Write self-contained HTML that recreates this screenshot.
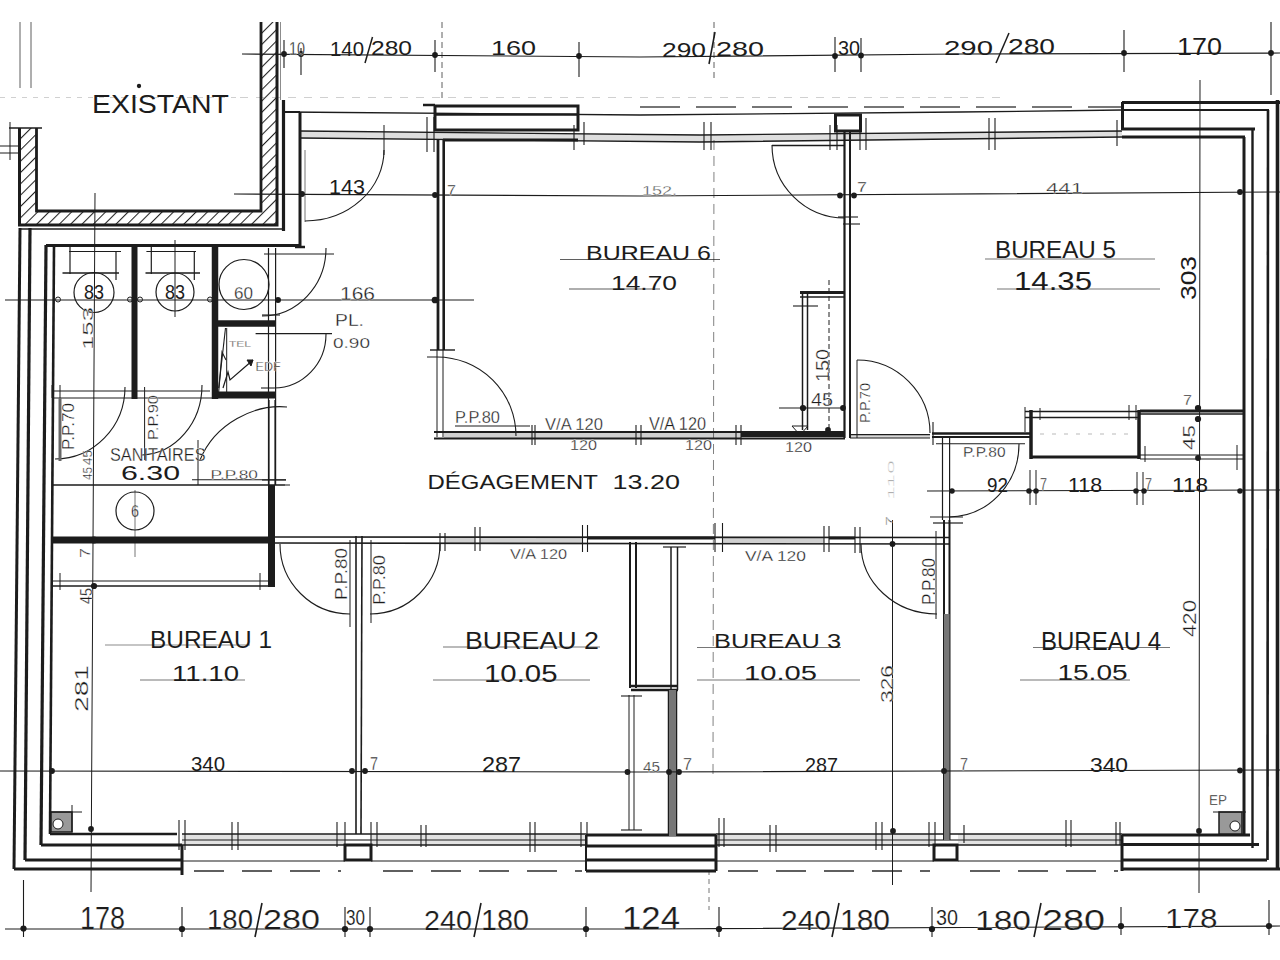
<!DOCTYPE html>
<html><head><meta charset="utf-8"><style>
html,body{margin:0;padding:0;background:#fff;}
svg{display:block;}
text{font-family:"Liberation Sans",sans-serif;-webkit-font-smoothing:antialiased;}
</style></head><body>
<svg width="1280" height="960" viewBox="0 0 1280 960">
<rect width="1280" height="960" fill="#fff"/>
<polygon points="300,131 700,135 1122,131 1122,137 700,142 300,138" fill="#dedede"/>
<rect x="444" y="432" width="297" height="6.5" fill="#d0d0d0"/>
<rect x="445" y="537.5" width="30" height="5.5" fill="#d0d0d0"/>
<rect x="480" y="537.5" width="102" height="5.5" fill="#d0d0d0"/>
<rect x="722" y="537.5" width="102" height="6.0" fill="#d0d0d0"/>
<rect x="182" y="834" width="163" height="11" fill="#e2e2e2"/>
<rect x="371" y="834" width="215" height="11" fill="#e2e2e2"/>
<rect x="716" y="834" width="218" height="11" fill="#e2e2e2"/>
<rect x="958" y="834" width="164" height="11" fill="#e2e2e2"/>
<rect x="850" y="434.6" width="80" height="3.3999999999999773" fill="#d8d8d8"/>
<polyline points="242,54 640,57 960,54 1280,53" fill="none" stroke="#1c1c1c" stroke-width="1.2"/>
<circle cx="284" cy="54" r="2.88" fill="#1c1c1c"/>
<circle cx="301" cy="54" r="2.88" fill="#1c1c1c"/>
<circle cx="435" cy="55" r="2.88" fill="#1c1c1c"/>
<circle cx="579" cy="56" r="2.88" fill="#1c1c1c"/>
<circle cx="835" cy="56" r="2.88" fill="#1c1c1c"/>
<circle cx="861" cy="55.5" r="2.88" fill="#1c1c1c"/>
<circle cx="1124" cy="53" r="2.88" fill="#1c1c1c"/>
<circle cx="1271" cy="53" r="2.88" fill="#1c1c1c"/>
<line x1="284" y1="40" x2="284" y2="68" stroke="#1c1c1c" stroke-width="1.1"/>
<line x1="301" y1="48" x2="301" y2="75" stroke="#1c1c1c" stroke-width="1.1"/>
<line x1="435" y1="40" x2="435" y2="72" stroke="#1c1c1c" stroke-width="1.1"/>
<line x1="579" y1="42" x2="579" y2="77" stroke="#1c1c1c" stroke-width="1.1"/>
<line x1="835" y1="37" x2="835" y2="72" stroke="#1c1c1c" stroke-width="1.1"/>
<line x1="861" y1="38" x2="861" y2="72" stroke="#1c1c1c" stroke-width="1.1"/>
<line x1="1124" y1="30" x2="1124" y2="72" stroke="#1c1c1c" stroke-width="1.1"/>
<line x1="1271" y1="22" x2="1271" y2="95" stroke="#1c1c1c" stroke-width="1.1"/>
<line x1="442" y1="22" x2="442" y2="100" stroke="#1c1c1c" stroke-width="1" stroke-dasharray="6,4" opacity="0.7"/>
<line x1="714" y1="22" x2="714" y2="80" stroke="#1c1c1c" stroke-width="1" stroke-dasharray="6,4" opacity="0.7"/>
<text x="289" y="55" font-size="18.16" textLength="16" lengthAdjust="spacingAndGlyphs" fill="#1c1c1c" stroke="#fff" stroke-width="0.3">10</text>
<text x="330" y="56" font-size="19.55" textLength="34" lengthAdjust="spacingAndGlyphs" fill="#1c1c1c">140</text>
<line x1="372.5" y1="37" x2="365" y2="63" stroke="#1c1c1c" stroke-width="1.5"/>
<text x="371" y="55" font-size="19.55" textLength="41" lengthAdjust="spacingAndGlyphs" fill="#1c1c1c">280</text>
<text x="491" y="55" font-size="20.95" textLength="45" lengthAdjust="spacingAndGlyphs" fill="#1c1c1c">160</text>
<text x="662" y="57" font-size="20.95" textLength="44" lengthAdjust="spacingAndGlyphs" fill="#1c1c1c">290</text>
<line x1="715" y1="32" x2="709" y2="64" stroke="#1c1c1c" stroke-width="1.5"/>
<text x="716" y="56" font-size="20.95" textLength="48" lengthAdjust="spacingAndGlyphs" fill="#1c1c1c">280</text>
<text x="838" y="55" font-size="20.95" textLength="22" lengthAdjust="spacingAndGlyphs" fill="#1c1c1c">30</text>
<text x="944" y="55" font-size="20.95" textLength="49" lengthAdjust="spacingAndGlyphs" fill="#1c1c1c">290</text>
<line x1="1009" y1="33" x2="996" y2="63" stroke="#1c1c1c" stroke-width="1.5"/>
<text x="1008" y="54" font-size="22.35" textLength="47" lengthAdjust="spacingAndGlyphs" fill="#1c1c1c">280</text>
<text x="1177" y="55" font-size="23.74" textLength="45" lengthAdjust="spacingAndGlyphs" fill="#1c1c1c">170</text>
<defs><pattern id="hatch" width="8" height="8" patternUnits="userSpaceOnUse" patternTransform="rotate(45)"><line x1="0" y1="0" x2="0" y2="8" stroke="#222" stroke-width="2.1"/></pattern></defs>
<polygon points="19.5,128 36.5,128 36.5,211 261,211 261,22 277,22 277,225 19.5,225" fill="url(#hatch)"/>
<polyline points="19.5,128 19.5,225 277,225 277,22" fill="none" stroke="#1c1c1c" stroke-width="3"/>
<polyline points="36.5,128 36.5,211 261,211 261,22" fill="none" stroke="#1c1c1c" stroke-width="2.8"/>
<line x1="9" y1="128" x2="42" y2="128" stroke="#1c1c1c" stroke-width="1.6"/>
<line x1="10" y1="122" x2="10" y2="160" stroke="#1c1c1c" stroke-width="1"/>
<line x1="0" y1="146" x2="19" y2="146" stroke="#1c1c1c" stroke-width="1"/>
<line x1="0" y1="153" x2="19" y2="153" stroke="#1c1c1c" stroke-width="1"/>
<line x1="20" y1="22" x2="20" y2="88" stroke="#1c1c1c" stroke-width="1" opacity="0.7"/>
<line x1="31" y1="22" x2="31" y2="88" stroke="#1c1c1c" stroke-width="1" opacity="0.7"/>
<line x1="283.5" y1="100" x2="283.5" y2="231" stroke="#1c1c1c" stroke-width="3.2"/>
<line x1="20" y1="229" x2="284" y2="229" stroke="#1c1c1c" stroke-width="1.5"/>
<line x1="280.5" y1="22" x2="280.5" y2="100" stroke="#1c1c1c" stroke-width="1" opacity="0.5"/>
<text x="92" y="112.5" font-size="25.84" textLength="137" lengthAdjust="spacingAndGlyphs" fill="#1c1c1c">EXISTANT</text>
<circle cx="139" cy="86" r="2.16" fill="#1c1c1c"/>
<line x1="0" y1="97.5" x2="240" y2="97.5" stroke="#1c1c1c" stroke-width="1" stroke-dasharray="5,6" opacity="0.2"/>
<line x1="240" y1="97.5" x2="1000" y2="97.5" stroke="#1c1c1c" stroke-width="1" stroke-dasharray="8,8" opacity="0.2"/>
<line x1="640" y1="107" x2="1122" y2="107" stroke="#1c1c1c" stroke-width="1.6" stroke-dasharray="40,16" opacity="0.8"/>
<polyline points="285,112 640,115 960,112 1122,110" fill="none" stroke="#1c1c1c" stroke-width="1.3"/>
<polyline points="300,131 700,135 1122,131" fill="none" stroke="#1c1c1c" stroke-width="1.3"/>
<polyline points="300,138 700,142 1122,137" fill="none" stroke="#1c1c1c" stroke-width="1.3"/>
<line x1="423" y1="105" x2="435" y2="105" stroke="#1c1c1c" stroke-width="2.5"/>
<rect x="435" y="106" width="143" height="24" fill="none" stroke="#1c1c1c" stroke-width="3"/>
<line x1="435" y1="114.5" x2="578" y2="114.5" stroke="#1c1c1c" stroke-width="2.4"/>
<line x1="443" y1="140" x2="578" y2="140" stroke="#1c1c1c" stroke-width="3"/>
<rect x="835.5" y="115" width="25.0" height="16" fill="none" stroke="#1c1c1c" stroke-width="3"/>
<line x1="772" y1="145.5" x2="845" y2="145.5" stroke="#1c1c1c" stroke-width="1.4"/>
<line x1="1122" y1="102.5" x2="1280" y2="102.5" stroke="#1c1c1c" stroke-width="3"/>
<line x1="1122" y1="110" x2="1269" y2="110" stroke="#1c1c1c" stroke-width="2"/>
<line x1="1122" y1="129" x2="1255" y2="129" stroke="#1c1c1c" stroke-width="3"/>
<line x1="1122" y1="137" x2="1245" y2="137" stroke="#1c1c1c" stroke-width="3"/>
<line x1="1122.5" y1="102" x2="1122.5" y2="130" stroke="#1c1c1c" stroke-width="3"/>
<line x1="427" y1="117" x2="427" y2="152" stroke="#1c1c1c" stroke-width="1.1"/>
<line x1="434" y1="117" x2="434" y2="152" stroke="#1c1c1c" stroke-width="1.1"/>
<line x1="574" y1="125" x2="574" y2="150" stroke="#1c1c1c" stroke-width="1.1"/>
<line x1="584" y1="122" x2="584" y2="145" stroke="#1c1c1c" stroke-width="1.1"/>
<line x1="704" y1="122" x2="704" y2="150" stroke="#1c1c1c" stroke-width="1.1"/>
<line x1="711" y1="122" x2="711" y2="150" stroke="#1c1c1c" stroke-width="1.1"/>
<line x1="830" y1="125" x2="830" y2="150" stroke="#1c1c1c" stroke-width="1.1"/>
<line x1="837" y1="125" x2="837" y2="150" stroke="#1c1c1c" stroke-width="1.1"/>
<line x1="860" y1="118" x2="860" y2="150" stroke="#1c1c1c" stroke-width="1.1"/>
<line x1="866" y1="118" x2="866" y2="150" stroke="#1c1c1c" stroke-width="1.1"/>
<line x1="989" y1="118" x2="989" y2="150" stroke="#1c1c1c" stroke-width="1.1"/>
<line x1="995" y1="118" x2="995" y2="150" stroke="#1c1c1c" stroke-width="1.1"/>
<line x1="1117" y1="120" x2="1117" y2="146" stroke="#1c1c1c" stroke-width="1.1"/>
<line x1="1200" y1="80" x2="1199" y2="893" stroke="#1c1c1c" stroke-width="1"/>
<line x1="20" y1="228" x2="14" y2="869" stroke="#1c1c1c" stroke-width="3"/>
<line x1="30" y1="228" x2="25" y2="860" stroke="#1c1c1c" stroke-width="3.2"/>
<line x1="46" y1="245" x2="41" y2="845" stroke="#1c1c1c" stroke-width="3.2"/>
<line x1="54" y1="246" x2="50" y2="834" stroke="#1c1c1c" stroke-width="2.6"/>
<line x1="46" y1="245.5" x2="300" y2="245.5" stroke="#1c1c1c" stroke-width="3.2"/>
<line x1="300" y1="112" x2="300" y2="248" stroke="#1c1c1c" stroke-width="3"/>
<line x1="283.5" y1="112" x2="300" y2="112" stroke="#1c1c1c" stroke-width="2"/>
<line x1="295" y1="247" x2="305" y2="247" stroke="#1c1c1c" stroke-width="2.5"/>
<line x1="1244" y1="137" x2="1244" y2="835" stroke="#1c1c1c" stroke-width="3"/>
<line x1="1252.5" y1="129" x2="1252.5" y2="848" stroke="#1c1c1c" stroke-width="2.4"/>
<line x1="1268" y1="110" x2="1267.5" y2="860" stroke="#1c1c1c" stroke-width="2.6"/>
<line x1="1277.5" y1="100" x2="1277.5" y2="869" stroke="#1c1c1c" stroke-width="3.6"/>
<line x1="50" y1="834" x2="177" y2="834" stroke="#1c1c1c" stroke-width="2.5"/>
<line x1="41" y1="845" x2="182" y2="845" stroke="#1c1c1c" stroke-width="3"/>
<line x1="25" y1="860" x2="182" y2="860" stroke="#1c1c1c" stroke-width="3"/>
<line x1="14" y1="869" x2="182" y2="869" stroke="#1c1c1c" stroke-width="3"/>
<line x1="182" y1="845" x2="182" y2="875" stroke="#1c1c1c" stroke-width="3"/>
<line x1="182" y1="834" x2="345" y2="834" stroke="#1c1c1c" stroke-width="1.5"/>
<line x1="182" y1="840" x2="345" y2="840" stroke="#1c1c1c" stroke-width="1.1"/>
<line x1="182" y1="845" x2="345" y2="845" stroke="#1c1c1c" stroke-width="1.4"/>
<line x1="182" y1="861" x2="345" y2="861" stroke="#1c1c1c" stroke-width="1.2"/>
<line x1="194" y1="871" x2="341" y2="871" stroke="#1c1c1c" stroke-width="1.8" stroke-dasharray="30,18" opacity="0.7"/>
<line x1="371" y1="834" x2="586" y2="834" stroke="#1c1c1c" stroke-width="1.5"/>
<line x1="371" y1="840" x2="586" y2="840" stroke="#1c1c1c" stroke-width="1.1"/>
<line x1="371" y1="845" x2="586" y2="845" stroke="#1c1c1c" stroke-width="1.4"/>
<line x1="371" y1="861" x2="586" y2="861" stroke="#1c1c1c" stroke-width="1.2"/>
<line x1="383" y1="871" x2="582" y2="871" stroke="#1c1c1c" stroke-width="1.8" stroke-dasharray="30,18" opacity="0.7"/>
<line x1="716" y1="834" x2="934" y2="834" stroke="#1c1c1c" stroke-width="1.5"/>
<line x1="716" y1="840" x2="934" y2="840" stroke="#1c1c1c" stroke-width="1.1"/>
<line x1="716" y1="845" x2="934" y2="845" stroke="#1c1c1c" stroke-width="1.4"/>
<line x1="716" y1="861" x2="934" y2="861" stroke="#1c1c1c" stroke-width="1.2"/>
<line x1="728" y1="871" x2="930" y2="871" stroke="#1c1c1c" stroke-width="1.8" stroke-dasharray="30,18" opacity="0.7"/>
<line x1="958" y1="834" x2="1122" y2="834" stroke="#1c1c1c" stroke-width="1.5"/>
<line x1="958" y1="840" x2="1122" y2="840" stroke="#1c1c1c" stroke-width="1.1"/>
<line x1="958" y1="845" x2="1122" y2="845" stroke="#1c1c1c" stroke-width="1.4"/>
<line x1="958" y1="861" x2="1122" y2="861" stroke="#1c1c1c" stroke-width="1.2"/>
<line x1="970" y1="871" x2="1118" y2="871" stroke="#1c1c1c" stroke-width="1.8" stroke-dasharray="30,18" opacity="0.7"/>
<line x1="345" y1="834" x2="371" y2="834" stroke="#1c1c1c" stroke-width="1.5"/>
<line x1="345" y1="840" x2="371" y2="840" stroke="#1c1c1c" stroke-width="1.1"/>
<line x1="934" y1="834" x2="958" y2="834" stroke="#1c1c1c" stroke-width="1.5"/>
<line x1="934" y1="840" x2="958" y2="840" stroke="#1c1c1c" stroke-width="1.1"/>
<rect x="345" y="845" width="26" height="15" fill="none" stroke="#1c1c1c" stroke-width="3"/>
<rect x="934" y="845" width="23" height="15" fill="none" stroke="#1c1c1c" stroke-width="3"/>
<line x1="586" y1="835" x2="716" y2="835" stroke="#1c1c1c" stroke-width="3"/>
<line x1="586" y1="846" x2="716" y2="846" stroke="#1c1c1c" stroke-width="3"/>
<line x1="586" y1="860" x2="716" y2="860" stroke="#1c1c1c" stroke-width="3"/>
<line x1="586" y1="871" x2="716" y2="871" stroke="#1c1c1c" stroke-width="3"/>
<line x1="586" y1="835" x2="586" y2="871" stroke="#1c1c1c" stroke-width="2"/>
<line x1="716" y1="835" x2="716" y2="871" stroke="#1c1c1c" stroke-width="3"/>
<line x1="1122" y1="835" x2="1250" y2="835" stroke="#1c1c1c" stroke-width="3"/>
<line x1="1122" y1="844.5" x2="1259" y2="844.5" stroke="#1c1c1c" stroke-width="3"/>
<line x1="1122" y1="860" x2="1267" y2="860" stroke="#1c1c1c" stroke-width="3"/>
<line x1="1122" y1="869" x2="1280" y2="869" stroke="#1c1c1c" stroke-width="3"/>
<line x1="1122" y1="835" x2="1122" y2="871" stroke="#1c1c1c" stroke-width="3"/>
<line x1="179" y1="820" x2="179" y2="850" stroke="#1c1c1c" stroke-width="1.1"/>
<line x1="185" y1="820" x2="185" y2="850" stroke="#1c1c1c" stroke-width="1.1"/>
<line x1="232" y1="822" x2="232" y2="850" stroke="#1c1c1c" stroke-width="1.1"/>
<line x1="238" y1="822" x2="238" y2="850" stroke="#1c1c1c" stroke-width="1.1"/>
<line x1="337" y1="822" x2="337" y2="847" stroke="#1c1c1c" stroke-width="1.1"/>
<line x1="345" y1="822" x2="345" y2="847" stroke="#1c1c1c" stroke-width="1.1"/>
<line x1="371" y1="822" x2="371" y2="847" stroke="#1c1c1c" stroke-width="1.1"/>
<line x1="377" y1="822" x2="377" y2="847" stroke="#1c1c1c" stroke-width="1.1"/>
<line x1="421" y1="825" x2="421" y2="847" stroke="#1c1c1c" stroke-width="1.1"/>
<line x1="426" y1="825" x2="426" y2="847" stroke="#1c1c1c" stroke-width="1.1"/>
<line x1="530" y1="822" x2="530" y2="852" stroke="#1c1c1c" stroke-width="1.1"/>
<line x1="535" y1="822" x2="535" y2="852" stroke="#1c1c1c" stroke-width="1.1"/>
<line x1="581" y1="822" x2="581" y2="847" stroke="#1c1c1c" stroke-width="1.1"/>
<line x1="587" y1="822" x2="587" y2="847" stroke="#1c1c1c" stroke-width="1.1"/>
<line x1="719" y1="818" x2="719" y2="847" stroke="#1c1c1c" stroke-width="1.1"/>
<line x1="724" y1="818" x2="724" y2="847" stroke="#1c1c1c" stroke-width="1.1"/>
<line x1="770" y1="825" x2="770" y2="852" stroke="#1c1c1c" stroke-width="1.1"/>
<line x1="776" y1="825" x2="776" y2="852" stroke="#1c1c1c" stroke-width="1.1"/>
<line x1="876" y1="822" x2="876" y2="850" stroke="#1c1c1c" stroke-width="1.1"/>
<line x1="882" y1="822" x2="882" y2="850" stroke="#1c1c1c" stroke-width="1.1"/>
<line x1="929" y1="822" x2="929" y2="847" stroke="#1c1c1c" stroke-width="1.1"/>
<line x1="935" y1="822" x2="935" y2="847" stroke="#1c1c1c" stroke-width="1.1"/>
<line x1="964" y1="825" x2="964" y2="843" stroke="#1c1c1c" stroke-width="1.1"/>
<line x1="1066" y1="820" x2="1066" y2="847" stroke="#1c1c1c" stroke-width="1.1"/>
<line x1="1071" y1="820" x2="1071" y2="847" stroke="#1c1c1c" stroke-width="1.1"/>
<line x1="1116" y1="822" x2="1116" y2="845" stroke="#1c1c1c" stroke-width="1.1"/>
<line x1="1120" y1="822" x2="1120" y2="845" stroke="#1c1c1c" stroke-width="1.1"/>
<line x1="134.5" y1="246" x2="134.5" y2="399" stroke="#1c1c1c" stroke-width="6"/>
<line x1="215" y1="246" x2="215" y2="399" stroke="#1c1c1c" stroke-width="6.5"/>
<line x1="215" y1="323.5" x2="276" y2="323.5" stroke="#1c1c1c" stroke-width="6.5"/>
<line x1="215" y1="395" x2="276" y2="395" stroke="#1c1c1c" stroke-width="7"/>
<line x1="226.7" y1="328" x2="226.7" y2="392" stroke="#1c1c1c" stroke-width="1"/>
<circle cx="94" cy="292.5" r="20" fill="none" stroke="#1c1c1c" stroke-width="1.2"/>
<circle cx="175" cy="292" r="19" fill="none" stroke="#1c1c1c" stroke-width="1.2"/>
<circle cx="244" cy="284.5" r="25" fill="none" stroke="#1c1c1c" stroke-width="1.2"/>
<text x="84" y="299" font-size="19.55" textLength="20" lengthAdjust="spacingAndGlyphs" fill="#1c1c1c">83</text>
<text x="165" y="299" font-size="19.55" textLength="20" lengthAdjust="spacingAndGlyphs" fill="#1c1c1c">83</text>
<text x="234" y="299" font-size="16.76" textLength="19" lengthAdjust="spacingAndGlyphs" fill="#1c1c1c" stroke="#fff" stroke-width="0.3">60</text>
<line x1="70" y1="246" x2="70" y2="274" stroke="#1c1c1c" stroke-width="1.2"/>
<line x1="116" y1="251" x2="116" y2="280" stroke="#1c1c1c" stroke-width="1.2"/>
<line x1="69" y1="251.5" x2="121" y2="251.5" stroke="#1c1c1c" stroke-width="1.2"/>
<line x1="62.5" y1="273" x2="119" y2="273" stroke="#1c1c1c" stroke-width="1.4"/>
<line x1="151.3" y1="246" x2="151.3" y2="274" stroke="#1c1c1c" stroke-width="1.2"/>
<line x1="194.3" y1="251" x2="194.3" y2="280" stroke="#1c1c1c" stroke-width="1.2"/>
<line x1="146.4" y1="251.5" x2="196" y2="251.5" stroke="#1c1c1c" stroke-width="1.2"/>
<line x1="145.5" y1="273" x2="200" y2="273" stroke="#1c1c1c" stroke-width="1.4"/>
<line x1="175" y1="240" x2="175" y2="317" stroke="#1c1c1c" stroke-width="1"/>
<line x1="95" y1="193" x2="91" y2="892" stroke="#1c1c1c" stroke-width="1"/>
<line x1="5" y1="300" x2="474" y2="300" stroke="#1c1c1c" stroke-width="1.2"/>
<circle cx="58" cy="299.5" r="2.5" fill="none" stroke="#1c1c1c" stroke-width="1"/>
<circle cx="130" cy="299.5" r="2.5" fill="none" stroke="#1c1c1c" stroke-width="1"/>
<circle cx="140" cy="299.5" r="2.5" fill="none" stroke="#1c1c1c" stroke-width="1"/>
<circle cx="210" cy="299.5" r="2.5" fill="none" stroke="#1c1c1c" stroke-width="1"/>
<circle cx="278" cy="300" r="3.0" fill="#1c1c1c"/>
<circle cx="435" cy="300" r="3.36" fill="#1c1c1c"/>
<text transform="translate(92.5,350) rotate(-90)" x="0" y="0" font-size="14.66" textLength="43" lengthAdjust="spacingAndGlyphs" fill="#1c1c1c" stroke="#fff" stroke-width="0.3">153</text>
<line x1="52" y1="391" x2="210" y2="391" stroke="#1c1c1c" stroke-width="1.2"/>
<line x1="52" y1="398" x2="215" y2="398" stroke="#1c1c1c" stroke-width="1.2"/>
<line x1="60" y1="385" x2="60" y2="398" stroke="#1c1c1c" stroke-width="1"/>
<line x1="52" y1="398" x2="52" y2="385" stroke="#1c1c1c" stroke-width="1"/>
<path d="M125,387 A70,72 0 0 1 55,459" fill="none" stroke="#1c1c1c" stroke-width="1.1"/>
<line x1="60" y1="398" x2="60" y2="461" stroke="#666" stroke-width="3"/>
<path d="M202,385 A62,70 0 0 1 142,455" fill="none" stroke="#1c1c1c" stroke-width="1.1"/>
<line x1="144.6" y1="387" x2="144.6" y2="460" stroke="#1c1c1c" stroke-width="1"/>
<path d="M287,407 C255,404 215,423 200,460" fill="none" stroke="#1c1c1c" stroke-width="1.1"/>
<line x1="198" y1="440" x2="198" y2="485" stroke="#1c1c1c" stroke-width="1"/>
<line x1="192" y1="479.7" x2="286" y2="479.7" stroke="#1c1c1c" stroke-width="1.1"/>
<line x1="52" y1="485" x2="290" y2="485" stroke="#1c1c1c" stroke-width="1.2"/>
<line x1="268.5" y1="248" x2="268.5" y2="485" stroke="#1c1c1c" stroke-width="1.2"/>
<line x1="275.6" y1="248" x2="275.6" y2="485" stroke="#1c1c1c" stroke-width="1.2"/>
<text transform="translate(74,450) rotate(-90)" x="0" y="0" font-size="16.76" textLength="47" lengthAdjust="spacingAndGlyphs" fill="#1c1c1c" stroke="#fff" stroke-width="0.3">P.P.70</text>
<text transform="translate(158,440) rotate(-90)" x="0" y="0" font-size="15.36" textLength="45" lengthAdjust="spacingAndGlyphs" fill="#1c1c1c" stroke="#fff" stroke-width="0.3">P.P.90</text>
<text transform="translate(92,465) rotate(-90)" x="0" y="0" font-size="12.57" textLength="15" lengthAdjust="spacingAndGlyphs" fill="#1c1c1c" stroke="#fff" stroke-width="0.3">45</text>
<text transform="translate(92,480) rotate(-90)" x="0" y="0" font-size="12.57" textLength="13" lengthAdjust="spacingAndGlyphs" fill="#1c1c1c" stroke="#fff" stroke-width="0.3">45</text>
<text x="110" y="461" font-size="18.16" textLength="95.5" lengthAdjust="spacingAndGlyphs" fill="#1c1c1c" stroke="#fff" stroke-width="0.3">SANITAIRES</text>
<text x="121" y="480" font-size="20.25" textLength="59" lengthAdjust="spacingAndGlyphs" fill="#1c1c1c">6.30</text>
<text x="210.6" y="478.7" font-size="13.55" textLength="47.400000000000006" lengthAdjust="spacingAndGlyphs" fill="#1c1c1c" stroke="#fff" stroke-width="0.3">P.P.80</text>
<path d="M326,248 A64,68 0 0 1 262,316" fill="none" stroke="#1c1c1c" stroke-width="1.1"/>
<line x1="264" y1="254" x2="334" y2="254" stroke="#1c1c1c" stroke-width="1.1"/>
<line x1="262" y1="315" x2="280" y2="315" stroke="#1c1c1c" stroke-width="1.1"/>
<path d="M326,334 A52,54 0 0 1 274,388" fill="none" stroke="#1c1c1c" stroke-width="1.1"/>
<line x1="255.6" y1="333.6" x2="332" y2="333.6" stroke="#1c1c1c" stroke-width="1.1"/>
<line x1="261" y1="388" x2="274" y2="388" stroke="#1c1c1c" stroke-width="1.1"/>
<text x="335" y="326" font-size="16.76" textLength="29" lengthAdjust="spacingAndGlyphs" fill="#1c1c1c" stroke="#fff" stroke-width="0.3">PL.</text>
<text x="333" y="348" font-size="15.36" textLength="37" lengthAdjust="spacingAndGlyphs" fill="#1c1c1c" stroke="#fff" stroke-width="0.3">0.90</text>
<text x="229" y="347" font-size="8.94" textLength="22" lengthAdjust="spacingAndGlyphs" fill="#1c1c1c" stroke="#fff" stroke-width="0.3">TEL</text>
<text x="255.6" y="371" font-size="11.87" textLength="25.00000000000003" lengthAdjust="spacingAndGlyphs" fill="#1c1c1c" stroke="#fff" stroke-width="0.3">EDF</text>
<polyline points="218.7,388 225.5,328" fill="none" stroke="#1c1c1c" stroke-width="1.1"/>
<polyline points="218.7,392 222,352 226,360" fill="none" stroke="#1c1c1c" stroke-width="1.1"/>
<polyline points="223,388 228,372 230,380 253,360" fill="none" stroke="#1c1c1c" stroke-width="1.2"/>
<path d="M247,360 L253,360 L251,366 Z" fill="#1c1c1c" stroke="#1c1c1c" stroke-width="1"/>
<path d="M287,407 " fill="none" stroke="#1c1c1c" stroke-width="1"/>
<line x1="53" y1="485" x2="285" y2="485" stroke="#1c1c1c" stroke-width="1.2"/>
<circle cx="135" cy="511" r="19" fill="none" stroke="#1c1c1c" stroke-width="1.2"/>
<text x="131" y="517" font-size="16.76" textLength="8" lengthAdjust="spacingAndGlyphs" fill="#1c1c1c" stroke="#fff" stroke-width="0.3">6</text>
<line x1="135" y1="490" x2="135" y2="557" stroke="#1c1c1c" stroke-width="1" opacity="0.6"/>
<line x1="53" y1="540" x2="270" y2="540" stroke="#1c1c1c" stroke-width="7"/>
<line x1="271.5" y1="485" x2="271.5" y2="587" stroke="#1c1c1c" stroke-width="7"/>
<line x1="53" y1="581" x2="270" y2="581" stroke="#1c1c1c" stroke-width="1.2"/>
<line x1="53" y1="586" x2="270" y2="586" stroke="#1c1c1c" stroke-width="1.6"/>
<line x1="60" y1="573" x2="60" y2="590" stroke="#1c1c1c" stroke-width="1"/>
<line x1="260" y1="573" x2="260" y2="590" stroke="#1c1c1c" stroke-width="1"/>
<circle cx="94" cy="540" r="3" fill="none" stroke="#1c1c1c" stroke-width="1.2"/>
<circle cx="94" cy="586" r="3.12" fill="#1c1c1c"/>
<text transform="translate(90,558) rotate(-90)" x="0" y="0" font-size="13.97" textLength="10" lengthAdjust="spacingAndGlyphs" fill="#1c1c1c" stroke="#fff" stroke-width="0.3">7</text>
<text transform="translate(92,604) rotate(-90)" x="0" y="0" font-size="16.76" textLength="16" lengthAdjust="spacingAndGlyphs" fill="#1c1c1c" stroke="#fff" stroke-width="0.3">45</text>
<line x1="269" y1="400" x2="269" y2="485" stroke="#1c1c1c" stroke-width="1.2"/>
<line x1="275" y1="400" x2="275" y2="485" stroke="#1c1c1c" stroke-width="1.2"/>
<line x1="262" y1="480" x2="286" y2="480" stroke="#1c1c1c" stroke-width="1.1"/>
<polyline points="234,194 640,196 1280,192" fill="none" stroke="#1c1c1c" stroke-width="1.1"/>
<circle cx="302" cy="194" r="2.88" fill="#1c1c1c"/>
<circle cx="435" cy="195" r="2.88" fill="#1c1c1c"/>
<circle cx="840" cy="195.5" r="2.88" fill="#1c1c1c"/>
<circle cx="854" cy="195.5" r="2.88" fill="#1c1c1c"/>
<circle cx="1240" cy="192" r="2.88" fill="#1c1c1c"/>
<text x="329" y="194" font-size="19.55" textLength="36" lengthAdjust="spacingAndGlyphs" fill="#1c1c1c">143</text>
<text x="340" y="300" font-size="18.16" textLength="35" lengthAdjust="spacingAndGlyphs" fill="#1c1c1c" stroke="#fff" stroke-width="0.3">166</text>
<text transform="translate(894,500) rotate(-90)" x="0" y="0" font-size="9.78" textLength="40" lengthAdjust="spacingAndGlyphs" fill="#1c1c1c" stroke="#fff" stroke-width="0.3" opacity="0.35">110</text>
<text x="447" y="195" font-size="15.36" textLength="9" lengthAdjust="spacingAndGlyphs" fill="#1c1c1c" stroke="#fff" stroke-width="0.3">7</text>
<text x="642" y="195" font-size="12.57" textLength="35" lengthAdjust="spacingAndGlyphs" fill="#1c1c1c" stroke="#fff" stroke-width="0.3" opacity="0.8">152.</text>
<text x="857" y="192" font-size="15.36" textLength="10" lengthAdjust="spacingAndGlyphs" fill="#1c1c1c" stroke="#fff" stroke-width="0.3">7</text>
<text x="1046" y="193" font-size="13.97" textLength="37" lengthAdjust="spacingAndGlyphs" fill="#1c1c1c" stroke="#fff" stroke-width="0.3">441</text>
<path d="M384,150 A79,71 0 0 1 305,221" fill="none" stroke="#1c1c1c" stroke-width="1.1"/>
<line x1="384" y1="125" x2="384" y2="155" stroke="#1c1c1c" stroke-width="1"/>
<line x1="305" y1="150" x2="305" y2="222" stroke="#1c1c1c" stroke-width="1" opacity="0.6"/>
<line x1="438" y1="140" x2="438" y2="350" stroke="#1c1c1c" stroke-width="2.8"/>
<line x1="443.7" y1="140" x2="443.7" y2="350" stroke="#1c1c1c" stroke-width="2.6"/>
<line x1="430" y1="350" x2="455" y2="350" stroke="#1c1c1c" stroke-width="1.4"/>
<line x1="437" y1="350" x2="437" y2="437" stroke="#1c1c1c" stroke-width="1"/>
<line x1="443" y1="350" x2="443" y2="437" stroke="#1c1c1c" stroke-width="1"/>
<path d="M437,357 A79,79 0 0 1 516,436" fill="none" stroke="#1c1c1c" stroke-width="1.1"/>
<line x1="427" y1="357" x2="437" y2="357" stroke="#1c1c1c" stroke-width="1"/>
<line x1="434" y1="432" x2="845" y2="432" stroke="#1c1c1c" stroke-width="2"/>
<line x1="434" y1="438.5" x2="845" y2="438.5" stroke="#1c1c1c" stroke-width="2"/>
<line x1="741" y1="435" x2="845" y2="435" stroke="#1c1c1c" stroke-width="4"/>
<line x1="455" y1="426" x2="530" y2="426" stroke="#1c1c1c" stroke-width="1.1"/>
<line x1="532" y1="425" x2="532" y2="445" stroke="#1c1c1c" stroke-width="1.1"/>
<line x1="535" y1="425" x2="535" y2="445" stroke="#1c1c1c" stroke-width="1.1"/>
<line x1="636" y1="425" x2="636" y2="445" stroke="#1c1c1c" stroke-width="1.1"/>
<line x1="641" y1="425" x2="641" y2="445" stroke="#1c1c1c" stroke-width="1.1"/>
<line x1="736" y1="425" x2="736" y2="445" stroke="#1c1c1c" stroke-width="1.1"/>
<line x1="741" y1="425" x2="741" y2="445" stroke="#1c1c1c" stroke-width="1.1"/>
<text x="455" y="423" font-size="16.76" textLength="45" lengthAdjust="spacingAndGlyphs" fill="#1c1c1c" stroke="#fff" stroke-width="0.3">P.P.80</text>
<text x="545" y="430" font-size="16.76" textLength="58" lengthAdjust="spacingAndGlyphs" fill="#1c1c1c" stroke="#fff" stroke-width="0.3">V/A 120</text>
<text x="570" y="450" font-size="13.97" textLength="27" lengthAdjust="spacingAndGlyphs" fill="#1c1c1c" stroke="#fff" stroke-width="0.3">120</text>
<text x="649" y="430" font-size="18.16" textLength="57" lengthAdjust="spacingAndGlyphs" fill="#1c1c1c" stroke="#fff" stroke-width="0.3">V/A 120</text>
<text x="685" y="450" font-size="13.97" textLength="27" lengthAdjust="spacingAndGlyphs" fill="#1c1c1c" stroke="#fff" stroke-width="0.3">120</text>
<text x="785" y="452" font-size="15.36" textLength="27" lengthAdjust="spacingAndGlyphs" fill="#1c1c1c" stroke="#fff" stroke-width="0.3">120</text>
<line x1="844.5" y1="131" x2="844.5" y2="438" stroke="#1c1c1c" stroke-width="2.2"/>
<line x1="850" y1="131" x2="850" y2="438" stroke="#1c1c1c" stroke-width="2"/>
<line x1="838" y1="217" x2="858" y2="217" stroke="#1c1c1c" stroke-width="1.1"/>
<line x1="843" y1="224" x2="860" y2="224" stroke="#1c1c1c" stroke-width="1.1"/>
<path d="M772,145 A73,73 0 0 0 845,218" fill="none" stroke="#1c1c1c" stroke-width="1.1"/>
<line x1="800" y1="292.5" x2="845" y2="292.5" stroke="#1c1c1c" stroke-width="3"/>
<line x1="800" y1="297" x2="845" y2="297" stroke="#1c1c1c" stroke-width="1.5"/>
<line x1="793" y1="306" x2="818" y2="306" stroke="#1c1c1c" stroke-width="1.1"/>
<line x1="802.5" y1="292" x2="802.5" y2="430" stroke="#1c1c1c" stroke-width="1.5"/>
<line x1="807.5" y1="292" x2="807.5" y2="430" stroke="#1c1c1c" stroke-width="1.5"/>
<line x1="829" y1="280" x2="829" y2="430" stroke="#1c1c1c" stroke-width="1" stroke-dasharray="5,3"/>
<line x1="779" y1="408" x2="845" y2="408" stroke="#1c1c1c" stroke-width="1.1"/>
<circle cx="803" cy="408" r="3.12" fill="#1c1c1c"/>
<circle cx="843" cy="408" r="2.88" fill="#1c1c1c"/>
<circle cx="828" cy="430" r="2.88" fill="#1c1c1c"/>
<path d="M792,426 L808,426 L800,435 Z" fill="none" stroke="#1c1c1c" stroke-width="1"/>
<text transform="translate(829,382) rotate(-90)" x="0" y="0" font-size="18.16" textLength="33" lengthAdjust="spacingAndGlyphs" fill="#1c1c1c" stroke="#fff" stroke-width="0.3">150</text>
<text x="811" y="406" font-size="18.16" textLength="22" lengthAdjust="spacingAndGlyphs" fill="#1c1c1c" stroke="#fff" stroke-width="0.3">45</text>
<line x1="714" y1="140" x2="713" y2="775" stroke="#1c1c1c" stroke-width="1" stroke-dasharray="10,6" opacity="0.55"/>
<text x="586" y="260" font-size="20.95" textLength="125" lengthAdjust="spacingAndGlyphs" fill="#1c1c1c">BUREAU 6</text>
<line x1="560" y1="259.5" x2="720" y2="259.5" stroke="#1c1c1c" stroke-width="1.1" opacity="0.7"/>
<text x="611" y="290" font-size="19.55" textLength="66" lengthAdjust="spacingAndGlyphs" fill="#1c1c1c">14.70</text>
<line x1="569" y1="289" x2="660" y2="289" stroke="#1c1c1c" stroke-width="1.1" opacity="0.7"/>
<text x="995" y="258" font-size="23.74" textLength="121" lengthAdjust="spacingAndGlyphs" fill="#1c1c1c">BUREAU 5</text>
<line x1="985" y1="259" x2="1155" y2="259" stroke="#1c1c1c" stroke-width="1.1" opacity="0.6"/>
<text x="1014" y="290" font-size="25.14" textLength="78" lengthAdjust="spacingAndGlyphs" fill="#1c1c1c">14.35</text>
<line x1="997" y1="289" x2="1160" y2="289" stroke="#1c1c1c" stroke-width="1.1" opacity="0.6"/>
<text transform="translate(1196,300) rotate(-90)" x="0" y="0" font-size="22.35" textLength="44" lengthAdjust="spacingAndGlyphs" fill="#1c1c1c">303</text>
<text transform="translate(1196,637) rotate(-90)" x="0" y="0" font-size="18.16" textLength="37" lengthAdjust="spacingAndGlyphs" fill="#1c1c1c" stroke="#fff" stroke-width="0.3">420</text>
<path d="M857,360 A73,73 0 0 1 930,433" fill="none" stroke="#1c1c1c" stroke-width="1.1"/>
<line x1="857" y1="360" x2="857" y2="438" stroke="#1c1c1c" stroke-width="1"/>
<line x1="850" y1="434.6" x2="930" y2="434.6" stroke="#1c1c1c" stroke-width="1.1"/>
<line x1="850" y1="438" x2="930" y2="438" stroke="#1c1c1c" stroke-width="1.1"/>
<text transform="translate(870,423) rotate(-90)" x="0" y="0" font-size="15.36" textLength="40" lengthAdjust="spacingAndGlyphs" fill="#1c1c1c" stroke="#fff" stroke-width="0.3">P.P.70</text>
<line x1="932" y1="433.6" x2="1031" y2="433.6" stroke="#1c1c1c" stroke-width="2.5"/>
<line x1="932" y1="437" x2="1031" y2="437" stroke="#1c1c1c" stroke-width="2"/>
<line x1="933" y1="422" x2="933" y2="445" stroke="#1c1c1c" stroke-width="1.1"/>
<line x1="1025" y1="411.5" x2="1140" y2="411.5" stroke="#1c1c1c" stroke-width="1.3"/>
<line x1="1025" y1="417.5" x2="1140" y2="417.5" stroke="#1c1c1c" stroke-width="1.3"/>
<line x1="1031" y1="410" x2="1031" y2="459" stroke="#1c1c1c" stroke-width="3.5"/>
<line x1="1139" y1="410" x2="1139" y2="459" stroke="#1c1c1c" stroke-width="3.5"/>
<line x1="1031" y1="457" x2="1139" y2="457" stroke="#1c1c1c" stroke-width="3"/>
<line x1="1040" y1="434" x2="1130" y2="434" stroke="#1c1c1c" stroke-width="1" stroke-dasharray="4,8" opacity="0.3"/>
<line x1="1140" y1="411" x2="1245" y2="411" stroke="#1c1c1c" stroke-width="3"/>
<line x1="1140" y1="414" x2="1245" y2="414" stroke="#1c1c1c" stroke-width="1.5"/>
<line x1="1140" y1="455" x2="1244" y2="455" stroke="#1c1c1c" stroke-width="1.2"/>
<line x1="1140" y1="459" x2="1244" y2="459" stroke="#1c1c1c" stroke-width="1.2"/>
<line x1="1145" y1="446" x2="1145" y2="462" stroke="#1c1c1c" stroke-width="1"/>
<line x1="1237" y1="445" x2="1237" y2="470" stroke="#1c1c1c" stroke-width="1"/>
<line x1="1025" y1="407" x2="1025" y2="432" stroke="#1c1c1c" stroke-width="1"/>
<line x1="1040" y1="408" x2="1040" y2="420" stroke="#1c1c1c" stroke-width="1"/>
<line x1="1129" y1="405" x2="1129" y2="420" stroke="#1c1c1c" stroke-width="1"/>
<line x1="1136" y1="405" x2="1136" y2="420" stroke="#1c1c1c" stroke-width="1"/>
<circle cx="1198" cy="408" r="3.12" fill="#1c1c1c"/>
<circle cx="1198" cy="419" r="3.12" fill="#1c1c1c"/>
<circle cx="1198" cy="458" r="2.88" fill="#1c1c1c"/>
<text transform="translate(1195,450) rotate(-90)" x="0" y="0" font-size="16.76" textLength="25" lengthAdjust="spacingAndGlyphs" fill="#1c1c1c" stroke="#fff" stroke-width="0.3">45</text>
<text x="1183" y="405" font-size="13.97" textLength="9" lengthAdjust="spacingAndGlyphs" fill="#1c1c1c" stroke="#fff" stroke-width="0.3">7</text>
<line x1="927" y1="491" x2="1280" y2="490" stroke="#1c1c1c" stroke-width="1.1"/>
<circle cx="952" cy="491" r="2.76" fill="#1c1c1c"/>
<circle cx="1029" cy="491" r="2.76" fill="#1c1c1c"/>
<circle cx="1036" cy="491" r="2.76" fill="#1c1c1c"/>
<circle cx="1136" cy="491" r="2.76" fill="#1c1c1c"/>
<circle cx="1144" cy="491" r="2.76" fill="#1c1c1c"/>
<circle cx="1240" cy="491" r="2.76" fill="#1c1c1c"/>
<line x1="1030" y1="470" x2="1030" y2="505" stroke="#1c1c1c" stroke-width="1"/>
<line x1="1036" y1="470" x2="1036" y2="505" stroke="#1c1c1c" stroke-width="1"/>
<line x1="1137" y1="472" x2="1137" y2="505" stroke="#1c1c1c" stroke-width="1"/>
<line x1="1143" y1="472" x2="1143" y2="505" stroke="#1c1c1c" stroke-width="1"/>
<text x="987" y="492" font-size="19.55" textLength="21" lengthAdjust="spacingAndGlyphs" fill="#1c1c1c">92</text>
<text x="1040" y="490" font-size="16.76" textLength="7" lengthAdjust="spacingAndGlyphs" fill="#1c1c1c" stroke="#fff" stroke-width="0.3">7</text>
<text x="1068" y="492" font-size="19.55" textLength="34" lengthAdjust="spacingAndGlyphs" fill="#1c1c1c">118</text>
<text x="1145" y="490" font-size="16.76" textLength="7" lengthAdjust="spacingAndGlyphs" fill="#1c1c1c" stroke="#fff" stroke-width="0.3">7</text>
<text x="1172" y="492" font-size="19.55" textLength="36" lengthAdjust="spacingAndGlyphs" fill="#1c1c1c">118</text>
<line x1="936" y1="443.7" x2="1025" y2="443.7" stroke="#1c1c1c" stroke-width="1.1"/>
<line x1="942.5" y1="437" x2="942.5" y2="520" stroke="#1c1c1c" stroke-width="1.2"/>
<line x1="949.6" y1="437" x2="949.6" y2="520" stroke="#1c1c1c" stroke-width="1.2"/>
<line x1="930" y1="517" x2="963" y2="517" stroke="#1c1c1c" stroke-width="1.2"/>
<path d="M1019,444 A71,73 0 0 1 949,517" fill="none" stroke="#1c1c1c" stroke-width="1.1"/>
<text x="963" y="457" font-size="15.36" textLength="42.5" lengthAdjust="spacingAndGlyphs" fill="#1c1c1c" stroke="#fff" stroke-width="0.3">P.P.80</text>
<line x1="944" y1="520" x2="944" y2="840" stroke="#1c1c1c" stroke-width="2"/>
<line x1="949.5" y1="520" x2="949.5" y2="840" stroke="#1c1c1c" stroke-width="2"/>
<rect x="944" y="614" width="5.5" height="226" fill="#777"/>
<text x="427.5" y="489" font-size="20.95" textLength="170.5" lengthAdjust="spacingAndGlyphs" fill="#1c1c1c">DÉGAGEMENT</text>
<text x="612.5" y="489" font-size="20.95" textLength="67.5" lengthAdjust="spacingAndGlyphs" fill="#1c1c1c">13.20</text>
<line x1="275" y1="537" x2="950" y2="537.5" stroke="#1c1c1c" stroke-width="1.6"/>
<line x1="275" y1="543" x2="950" y2="544" stroke="#1c1c1c" stroke-width="1.6"/>
<line x1="587" y1="538" x2="715" y2="538" stroke="#1c1c1c" stroke-width="3"/>
<line x1="829" y1="538" x2="855" y2="538" stroke="#1c1c1c" stroke-width="3"/>
<line x1="440" y1="533" x2="440" y2="551" stroke="#1c1c1c" stroke-width="1.1"/>
<line x1="445" y1="533" x2="445" y2="551" stroke="#1c1c1c" stroke-width="1.1"/>
<line x1="475" y1="527" x2="475" y2="551" stroke="#1c1c1c" stroke-width="1.1"/>
<line x1="480" y1="527" x2="480" y2="551" stroke="#1c1c1c" stroke-width="1.1"/>
<line x1="582.5" y1="525" x2="582.5" y2="552" stroke="#1c1c1c" stroke-width="1.1"/>
<line x1="587.5" y1="525" x2="587.5" y2="552" stroke="#1c1c1c" stroke-width="1.1"/>
<line x1="715" y1="523" x2="715" y2="552" stroke="#1c1c1c" stroke-width="1.1"/>
<line x1="722.5" y1="523" x2="722.5" y2="552" stroke="#1c1c1c" stroke-width="1.1"/>
<line x1="824" y1="526" x2="824" y2="552" stroke="#1c1c1c" stroke-width="1.1"/>
<line x1="829" y1="526" x2="829" y2="552" stroke="#1c1c1c" stroke-width="1.1"/>
<line x1="855" y1="527" x2="855" y2="553" stroke="#1c1c1c" stroke-width="1.1"/>
<line x1="860" y1="527" x2="860" y2="553" stroke="#1c1c1c" stroke-width="1.1"/>
<path d="M280,544 A70,70 0 0 0 350,614" fill="none" stroke="#1c1c1c" stroke-width="1.1"/>
<path d="M370,614 A70,70 0 0 0 440,544" fill="none" stroke="#1c1c1c" stroke-width="1.1"/>
<line x1="350" y1="540" x2="350" y2="627" stroke="#1c1c1c" stroke-width="1"/>
<line x1="371" y1="540" x2="371" y2="623" stroke="#1c1c1c" stroke-width="1"/>
<line x1="356" y1="536" x2="356" y2="834" stroke="#1c1c1c" stroke-width="1.6"/>
<line x1="362" y1="536" x2="361" y2="834" stroke="#1c1c1c" stroke-width="1.6"/>
<text transform="translate(347,600) rotate(-90)" x="0" y="0" font-size="16.76" textLength="52" lengthAdjust="spacingAndGlyphs" fill="#1c1c1c" stroke="#fff" stroke-width="0.3">P.P.80</text>
<text transform="translate(385,605) rotate(-90)" x="0" y="0" font-size="16.76" textLength="50" lengthAdjust="spacingAndGlyphs" fill="#1c1c1c" stroke="#fff" stroke-width="0.3">P.P.80</text>
<text x="510" y="559" font-size="13.97" textLength="57" lengthAdjust="spacingAndGlyphs" fill="#1c1c1c" stroke="#fff" stroke-width="0.3">V/A 120</text>
<text x="745" y="561" font-size="15.36" textLength="61" lengthAdjust="spacingAndGlyphs" fill="#1c1c1c" stroke="#fff" stroke-width="0.3">V/A 120</text>
<line x1="630" y1="542" x2="630" y2="688" stroke="#1c1c1c" stroke-width="2"/>
<line x1="636" y1="542" x2="636" y2="688" stroke="#1c1c1c" stroke-width="2"/>
<line x1="671" y1="547" x2="671" y2="690" stroke="#1c1c1c" stroke-width="1.5"/>
<line x1="677.5" y1="547" x2="677.5" y2="690" stroke="#1c1c1c" stroke-width="1.5"/>
<line x1="663" y1="547" x2="686" y2="547" stroke="#1c1c1c" stroke-width="1.2"/>
<line x1="631" y1="686" x2="678" y2="686" stroke="#1c1c1c" stroke-width="2.4"/>
<line x1="631" y1="690" x2="678" y2="690" stroke="#1c1c1c" stroke-width="2.4"/>
<line x1="669" y1="690" x2="669" y2="836" stroke="#1c1c1c" stroke-width="2.5"/>
<line x1="676" y1="690" x2="676" y2="836" stroke="#1c1c1c" stroke-width="2.5"/>
<rect x="669" y="690" width="7" height="146" fill="#777"/>
<line x1="629" y1="695" x2="629" y2="830" stroke="#1c1c1c" stroke-width="1"/>
<line x1="634" y1="695" x2="634" y2="830" stroke="#1c1c1c" stroke-width="1"/>
<line x1="621" y1="696" x2="642" y2="696" stroke="#1c1c1c" stroke-width="1.1"/>
<line x1="621" y1="830" x2="642" y2="830" stroke="#1c1c1c" stroke-width="1.1"/>
<line x1="892.5" y1="520" x2="892.5" y2="885" stroke="#1c1c1c" stroke-width="1"/>
<circle cx="892.5" cy="544" r="2.88" fill="#1c1c1c"/>
<circle cx="893" cy="831" r="2.88" fill="#1c1c1c"/>
<text transform="translate(892,526) rotate(-90)" x="0" y="0" font-size="9.78" textLength="10" lengthAdjust="spacingAndGlyphs" fill="#1c1c1c" stroke="#fff" stroke-width="0.3">7</text>
<path d="M861,544 A76,70 0 0 0 937,614" fill="none" stroke="#1c1c1c" stroke-width="1.1"/>
<line x1="936" y1="531" x2="936" y2="619" stroke="#1c1c1c" stroke-width="1"/>
<text transform="translate(935,605) rotate(-90)" x="0" y="0" font-size="18.16" textLength="47" lengthAdjust="spacingAndGlyphs" fill="#1c1c1c" stroke="#fff" stroke-width="0.3">P.P.80</text>
<line x1="933" y1="523" x2="963" y2="523" stroke="#1c1c1c" stroke-width="1.2"/>
<text transform="translate(893,703) rotate(-90)" x="0" y="0" font-size="16.76" textLength="38" lengthAdjust="spacingAndGlyphs" fill="#1c1c1c" stroke="#fff" stroke-width="0.3">326</text>
<polyline points="0,771 640,772 1280,770" fill="none" stroke="#1c1c1c" stroke-width="1.1"/>
<circle cx="52" cy="771" r="2.88" fill="#1c1c1c"/>
<circle cx="352" cy="771" r="2.88" fill="#1c1c1c"/>
<circle cx="365" cy="771" r="2.88" fill="#1c1c1c"/>
<circle cx="627.5" cy="772" r="2.88" fill="#1c1c1c"/>
<circle cx="669" cy="772" r="2.88" fill="#1c1c1c"/>
<circle cx="679" cy="772" r="2.88" fill="#1c1c1c"/>
<circle cx="944" cy="771" r="2.88" fill="#1c1c1c"/>
<circle cx="1240" cy="770.5" r="2.88" fill="#1c1c1c"/>
<text x="191" y="771" font-size="20.95" textLength="34" lengthAdjust="spacingAndGlyphs" fill="#1c1c1c">340</text>
<text x="370" y="770" font-size="18.16" textLength="8" lengthAdjust="spacingAndGlyphs" fill="#1c1c1c" stroke="#fff" stroke-width="0.3">7</text>
<text x="482" y="772" font-size="22.35" textLength="39" lengthAdjust="spacingAndGlyphs" fill="#1c1c1c">287</text>
<text x="643" y="772" font-size="13.97" textLength="17" lengthAdjust="spacingAndGlyphs" fill="#1c1c1c" stroke="#fff" stroke-width="0.3">45</text>
<text x="683" y="770" font-size="16.76" textLength="9" lengthAdjust="spacingAndGlyphs" fill="#1c1c1c" stroke="#fff" stroke-width="0.3">7</text>
<text x="805" y="772" font-size="20.95" textLength="33" lengthAdjust="spacingAndGlyphs" fill="#1c1c1c">287</text>
<text x="960" y="770" font-size="16.76" textLength="8" lengthAdjust="spacingAndGlyphs" fill="#1c1c1c" stroke="#fff" stroke-width="0.3">7</text>
<text x="1090" y="772" font-size="20.95" textLength="38" lengthAdjust="spacingAndGlyphs" fill="#1c1c1c">340</text>
<text x="150" y="647.5" font-size="23.04" textLength="122" lengthAdjust="spacingAndGlyphs" fill="#1c1c1c">BUREAU 1</text>
<line x1="105" y1="645" x2="250" y2="645" stroke="#1c1c1c" stroke-width="1.1" opacity="0.5"/>
<text x="172" y="681" font-size="22.35" textLength="67" lengthAdjust="spacingAndGlyphs" fill="#1c1c1c">11.10</text>
<line x1="140" y1="680" x2="245" y2="680" stroke="#1c1c1c" stroke-width="1.1" opacity="0.6"/>
<text x="465" y="649" font-size="23.04" textLength="134" lengthAdjust="spacingAndGlyphs" fill="#1c1c1c">BUREAU 2</text>
<line x1="443" y1="647" x2="600" y2="647" stroke="#1c1c1c" stroke-width="1.1" opacity="0.6"/>
<text x="484" y="682" font-size="23.74" textLength="73.5" lengthAdjust="spacingAndGlyphs" fill="#1c1c1c">10.05</text>
<line x1="433" y1="680" x2="590" y2="680" stroke="#1c1c1c" stroke-width="1.1" opacity="0.6"/>
<text x="714" y="648" font-size="20.95" textLength="127" lengthAdjust="spacingAndGlyphs" fill="#1c1c1c">BUREAU 3</text>
<line x1="697" y1="647.5" x2="841" y2="647.5" stroke="#1c1c1c" stroke-width="1.1" opacity="0.6"/>
<text x="744" y="680" font-size="20.95" textLength="73" lengthAdjust="spacingAndGlyphs" fill="#1c1c1c">10.05</text>
<line x1="697" y1="680" x2="860" y2="680" stroke="#1c1c1c" stroke-width="1.1" opacity="0.6"/>
<text x="1041" y="650" font-size="25.14" textLength="120" lengthAdjust="spacingAndGlyphs" fill="#1c1c1c">BUREAU 4</text>
<line x1="1033" y1="647.5" x2="1170" y2="647.5" stroke="#1c1c1c" stroke-width="1.1" opacity="0.6"/>
<text x="1057.5" y="680" font-size="22.35" textLength="70.0" lengthAdjust="spacingAndGlyphs" fill="#1c1c1c">15.05</text>
<line x1="1020" y1="680" x2="1130" y2="680" stroke="#1c1c1c" stroke-width="1.1" opacity="0.6"/>
<text transform="translate(88,712) rotate(-90)" x="0" y="0" font-size="18.16" textLength="47" lengthAdjust="spacingAndGlyphs" fill="#1c1c1c" stroke="#fff" stroke-width="0.3">281</text>
<circle cx="91" cy="829" r="2.88" fill="#1c1c1c"/>
<rect x="51" y="812" width="21" height="20" fill="#999" stroke="#1c1c1c" stroke-width="1.5"/>
<circle cx="58" cy="824" r="5" fill="#fff" stroke="#1c1c1c" stroke-width="1"/>
<line x1="72" y1="805" x2="72" y2="832" stroke="#1c1c1c" stroke-width="1"/>
<line x1="51" y1="812" x2="82" y2="812" stroke="#1c1c1c" stroke-width="1"/>
<rect x="1219" y="812" width="23" height="22" fill="#999" stroke="#1c1c1c" stroke-width="1.5"/>
<circle cx="1235" cy="826" r="5" fill="#fff" stroke="#1c1c1c" stroke-width="1"/>
<line x1="1213" y1="812" x2="1246" y2="812" stroke="#1c1c1c" stroke-width="1"/>
<text x="1209" y="805" font-size="13.97" textLength="18" lengthAdjust="spacingAndGlyphs" fill="#1c1c1c" stroke="#fff" stroke-width="0.3">EP</text>
<circle cx="1199" cy="831" r="2.88" fill="#1c1c1c"/>
<polyline points="5,929 640,929 1280,926" fill="none" stroke="#1c1c1c" stroke-width="1.2"/>
<circle cx="23.5" cy="928.5" r="3.12" fill="#1c1c1c"/>
<circle cx="182" cy="929" r="3.12" fill="#1c1c1c"/>
<circle cx="345" cy="929" r="3.12" fill="#1c1c1c"/>
<circle cx="370" cy="929" r="3.12" fill="#1c1c1c"/>
<circle cx="586" cy="929" r="3.12" fill="#1c1c1c"/>
<circle cx="719" cy="929" r="3.12" fill="#1c1c1c"/>
<circle cx="932" cy="929" r="3.12" fill="#1c1c1c"/>
<circle cx="1121" cy="926" r="3.12" fill="#1c1c1c"/>
<circle cx="1269" cy="926" r="3.12" fill="#1c1c1c"/>
<line x1="23.5" y1="880" x2="23.5" y2="937" stroke="#1c1c1c" stroke-width="1.1"/>
<line x1="182" y1="907" x2="182" y2="937" stroke="#1c1c1c" stroke-width="1.1"/>
<line x1="345" y1="907" x2="345" y2="937" stroke="#1c1c1c" stroke-width="1.1"/>
<line x1="370" y1="907" x2="370" y2="937" stroke="#1c1c1c" stroke-width="1.1"/>
<line x1="586" y1="907" x2="586" y2="937" stroke="#1c1c1c" stroke-width="1.1"/>
<line x1="719" y1="907" x2="719" y2="937" stroke="#1c1c1c" stroke-width="1.1"/>
<line x1="932" y1="907" x2="932" y2="937" stroke="#1c1c1c" stroke-width="1.1"/>
<line x1="1121" y1="907" x2="1121" y2="935" stroke="#1c1c1c" stroke-width="1.1"/>
<line x1="1269" y1="900" x2="1269" y2="935" stroke="#1c1c1c" stroke-width="1.1"/>
<line x1="709" y1="870" x2="709" y2="910" stroke="#1c1c1c" stroke-width="1" stroke-dasharray="5,4" opacity="0.6"/>
<text x="80" y="929" font-size="30.73" textLength="45" lengthAdjust="spacingAndGlyphs" fill="#1c1c1c" stroke="#fff" stroke-width="0.2">178</text>
<text x="207" y="929" font-size="27.93" textLength="46" lengthAdjust="spacingAndGlyphs" fill="#1c1c1c" stroke="#fff" stroke-width="0.2">180</text>
<line x1="262" y1="903" x2="255" y2="937" stroke="#1c1c1c" stroke-width="1.6"/>
<text x="263" y="929" font-size="27.93" textLength="57" lengthAdjust="spacingAndGlyphs" fill="#1c1c1c" stroke="#fff" stroke-width="0.2">280</text>
<text x="346" y="925" font-size="22.35" textLength="19" lengthAdjust="spacingAndGlyphs" fill="#1c1c1c" stroke="#fff" stroke-width="0.15">30</text>
<text x="424" y="930" font-size="27.93" textLength="48" lengthAdjust="spacingAndGlyphs" fill="#1c1c1c" stroke="#fff" stroke-width="0.2">240</text>
<line x1="481" y1="903" x2="474" y2="937" stroke="#1c1c1c" stroke-width="1.6"/>
<text x="481" y="930" font-size="29.33" textLength="48" lengthAdjust="spacingAndGlyphs" fill="#1c1c1c" stroke="#fff" stroke-width="0.2">180</text>
<text x="622" y="929" font-size="30.73" textLength="58" lengthAdjust="spacingAndGlyphs" fill="#1c1c1c" stroke="#fff" stroke-width="0.2">124</text>
<text x="781" y="930" font-size="27.93" textLength="50" lengthAdjust="spacingAndGlyphs" fill="#1c1c1c" stroke="#fff" stroke-width="0.2">240</text>
<line x1="839" y1="903" x2="832" y2="937" stroke="#1c1c1c" stroke-width="1.6"/>
<text x="840" y="930" font-size="29.33" textLength="50" lengthAdjust="spacingAndGlyphs" fill="#1c1c1c" stroke="#fff" stroke-width="0.2">180</text>
<text x="936" y="925" font-size="22.35" textLength="22" lengthAdjust="spacingAndGlyphs" fill="#1c1c1c" stroke="#fff" stroke-width="0.15">30</text>
<text x="975" y="930" font-size="27.93" textLength="56" lengthAdjust="spacingAndGlyphs" fill="#1c1c1c" stroke="#fff" stroke-width="0.2">180</text>
<line x1="1041" y1="903" x2="1034" y2="937" stroke="#1c1c1c" stroke-width="1.6"/>
<text x="1042" y="930" font-size="29.33" textLength="63" lengthAdjust="spacingAndGlyphs" fill="#1c1c1c" stroke="#fff" stroke-width="0.2">280</text>
<text x="1165" y="928" font-size="27.93" textLength="52.5" lengthAdjust="spacingAndGlyphs" fill="#1c1c1c" stroke="#fff" stroke-width="0.2">178</text>
</svg></body></html>
